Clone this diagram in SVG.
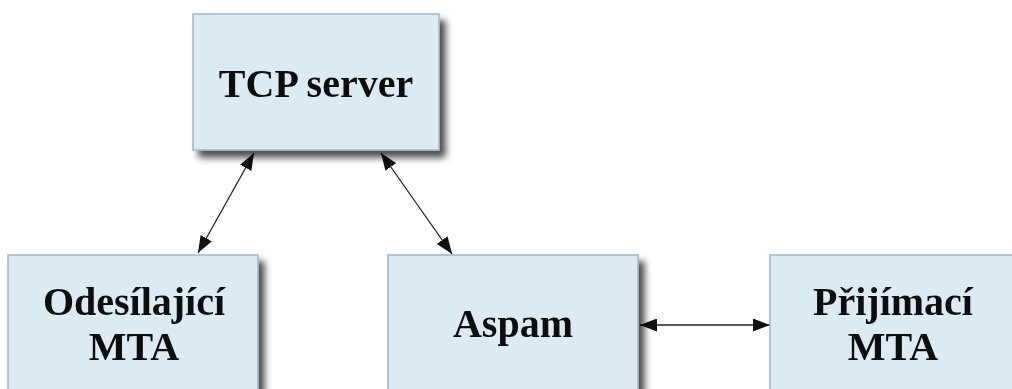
<svg xmlns="http://www.w3.org/2000/svg" width="1012" height="389" viewBox="0 0 1012 389">
  <style>
    .box { fill: #dbebf3; stroke: #a7b4c6; stroke-width: 1.5; }
    .lbl { font-family: "Liberation Serif", "Times New Roman", serif; font-weight: bold; font-size: 40px; fill: #111; text-anchor: middle; }
    .conn { stroke: #222; stroke-width: 1.3; fill: none; marker-start: url(#head); marker-end: url(#head); }
  </style>
  <defs>
    <filter id="shadow" x="-10%" y="-10%" width="130%" height="130%">
      <feGaussianBlur in="SourceAlpha" stdDeviation="3.5"/>
      <feOffset dx="6" dy="7" result="b"/>
      <feComponentTransfer><feFuncA type="linear" slope="0.7"/></feComponentTransfer>
      <feMerge><feMergeNode/><feMergeNode in="SourceGraphic"/></feMerge>
    </filter>
    <marker id="head" viewBox="0 0 17 13" refX="17" refY="6.5" markerWidth="17" markerHeight="13" markerUnits="userSpaceOnUse" orient="auto-start-reverse">
      <path d="M0,0 L17,6.5 L0,13 Z" fill="#111"/>
    </marker>
  </defs>

  <g id="connectors">
    <line class="conn" x1="254" y1="153" x2="198" y2="253"/>
    <line class="conn" x1="381" y1="153" x2="452" y2="254"/>
    <line class="conn" x1="640" y1="325" x2="770" y2="325"/>
  </g>

  <g id="tcp-server" filter="url(#shadow)">
    <rect class="box" x="193" y="14" width="246" height="136"/>
    <text class="lbl" x="316" y="97">TCP server</text>
  </g>

  <g id="odesilajici-mta" filter="url(#shadow)">
    <rect class="box" x="8" y="255" width="250" height="150"/>
    <text class="lbl" x="134" y="315">Odesílající</text>
    <text class="lbl" x="134" y="360">MTA</text>
  </g>

  <g id="aspam" filter="url(#shadow)">
    <rect class="box" x="388" y="255" width="250" height="150"/>
    <text class="lbl" x="513" y="337">Aspam</text>
  </g>

  <g id="prijimaci-mta" filter="url(#shadow)">
    <rect class="box" x="770" y="255" width="250" height="150"/>
    <text class="lbl" x="893" y="315">Přijímací</text>
    <text class="lbl" x="893" y="360">MTA</text>
  </g>
</svg>
